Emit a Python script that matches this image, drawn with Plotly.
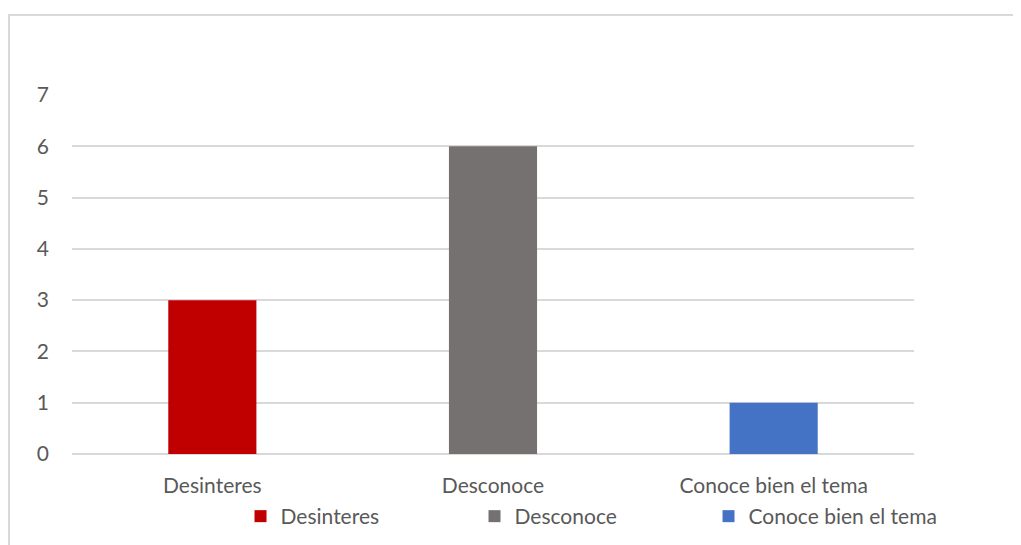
import plotly.graph_objects as go

categories = ["Desinteres", "Desconoce", "Conoce bien el tema"]
values = [3, 6, 1]
colors = ["#c00000", "#767171", "#4472c4"]

fig = go.Figure()
for cat, val, col in zip(categories, values, colors):
    fig.add_trace(go.Bar(x=[cat], y=[val], name=cat, marker_color=col,
                         width=0.314, marker_line_width=0))

font = dict(family="Lato, Open Sans, sans-serif", size=21, color="#595959")

fig.update_layout(
    width=1021, height=545,
    margin=dict(l=64, r=115, t=87, b=99),
    plot_bgcolor="white", paper_bgcolor="white",
    barmode="overlay",
    font=font,
    showlegend=True,
    legend=dict(orientation="h", x=0.617, xanchor="center",
                y=-0.117, yanchor="top",
                font=font, itemwidth=30, traceorder="normal",
                entrywidth=189, entrywidthmode="pixels"),
    shapes=[dict(type="rect", xref="paper", yref="paper",
                 x0=-63 / 842, x1=1.2, y0=-0.5, y1=1 + 80 / 359,
                 line=dict(color="#d9d9d9", width=2), fillcolor="rgba(0,0,0,0)",
                 layer="below")],
)
fig.update_xaxes(showgrid=False, showline=False, ticks="", ticklabelstandoff=17)
fig.update_yaxes(range=[0, 7], dtick=1, gridcolor="#d9d9d9", gridwidth=1.5,
                 zeroline=True, zerolinecolor="#d9d9d9", zerolinewidth=1.5,
                 showline=False, ticks="", ticklabelstandoff=22)

fig.write_html("out.html")
